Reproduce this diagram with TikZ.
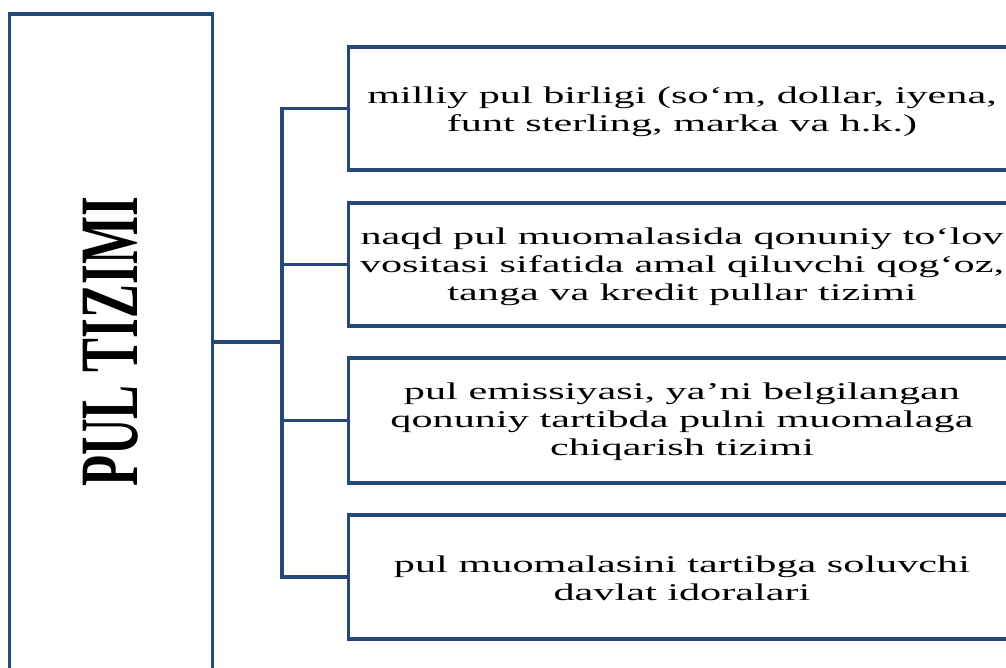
\documentclass[tikz,border=0pt]{standalone}
\usepackage{fontspec}
\setmainfont{Liberation Serif}
\newfontfamily\boxfont[FakeStretch=1.76]{Liberation Serif}
\newfontfamily\titlefont[FakeStretch=0.613]{Liberation Serif}
\definecolor{frameblue}{RGB}{36,72,122}
\begin{document}
\begin{tikzpicture}[x=1pt,y=1pt,
  frame/.style={draw=frameblue,line width=3.4pt,rectangle,inner sep=0pt},
  itembox/.style={frame,minimum width=667pt,align=center,
    font=\boxfont\fontsize{24}{28}\selectfont},
  link/.style={draw=frameblue,line width=3.4pt}]
\useasboundingbox (0,0) rectangle (1006,668);
\clip (0,0) rectangle (1006,668);

% title column
\node[frame,minimum width=203pt,minimum height=656pt] (L) at (111,326) {};
\node[rotate=90,font=\titlefont\bfseries\fontsize{83}{90}\selectfont] (t) at (L.center) {PUL TIZIMI};

% component boxes
\node[itembox,minimum height=123pt] (b1) at (682,559.5) {};
\node[itembox,minimum height=123pt] (b2) at (682,403.5) {};
\node[itembox,minimum height=125pt] (b3) at (682,247.5) {};
\node[itembox,minimum height=124pt] (b4) at (682,91) {};

% box texts
\node[itembox,draw=none,minimum height=0pt] (t1) at ([yshift=-3pt]b1.center)
  {milliy pul birligi (so‘m, dollar, iyena,\\funt sterling, marka va h.k.)};
\node[itembox,draw=none,minimum height=0pt] (t2) at ([yshift=-2pt]b2.center)
  {naqd pul muomalasida qonuniy to‘lov\\vositasi sifatida amal qiluvchi qog‘oz,\\tanga va kredit pullar tizimi};
\node[itembox,draw=none,minimum height=0pt] (t3) at ([yshift=-1pt]b3.center)
  {pul emissiyasi, ya’ni belgilangan\\qonuniy tartibda pulni muomalaga\\chiqarish tizimi};
\node[itembox,draw=none,minimum height=0pt] (t4) at ([yshift=-1pt]b4.center)
  {pul muomalasini tartibga soluvchi\\davlat idoralari};

% bracket
\coordinate (sp) at (282,0);
\draw[link] (L.east) -- (L.east -| sp);
\draw[link] (b1.west) -- (b1.west -| sp) -- (b4.west -| sp) -- (b4.west);
\draw[link] (b2.west) -- (b2.west -| sp);
\draw[link] (b3.west) -- (b3.west -| sp);
\end{tikzpicture}
\end{document}
